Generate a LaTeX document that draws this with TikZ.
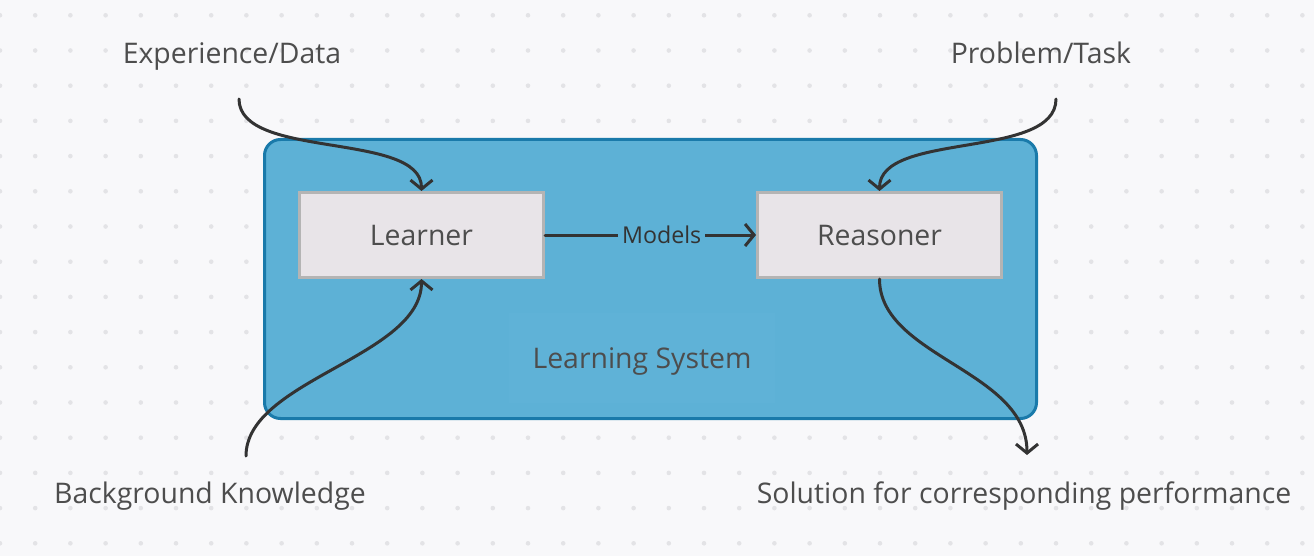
\documentclass[tikz,border=0pt]{standalone}
\usepackage{fontspec}
\setmainfont{Open Sans}
\usetikzlibrary{arrows.meta,positioning,calc}

\definecolor{paper}{HTML}{F8F8FA}
\definecolor{griddot}{HTML}{E3E3E6}
\definecolor{sysfill}{HTML}{5DB1D6}
\definecolor{sysline}{HTML}{1A7AAA}
\definecolor{labfill}{HTML}{5FB2D7}
\definecolor{boxfill}{HTML}{E8E4E8}
\definecolor{boxline}{HTML}{B4B4B4}
\definecolor{ink}{HTML}{4D4D4D}
\definecolor{wire}{HTML}{333333}

\tikzset{
  unit/.style={draw=boxline, fill=boxfill, line width=3pt, minimum width=244pt,
    minimum height=85pt, font=\fontsize{28.4}{32}\selectfont, text=ink,
    text height=20.3pt, text depth=0pt},
  flow/.style={draw=wire, line width=3pt, line cap=round,
    -{Straight Barb[length=9pt,width=22pt]}},
  caption/.style={font=\fontsize{28.4}{32}\selectfont, text=ink, anchor=base}
}

\begin{document}
\begin{tikzpicture}[x=1pt,y=-1pt]
\useasboundingbox[fill=paper] (0,0) rectangle (1314,556);
% dotted grid
\foreach \i in {0,...,37}
  \foreach \j in {0,...,15}
    \fill[griddot] (\i*35.2,15.3+\j*35.2) circle (2.3);

\node[draw=sysline, fill=sysfill, line width=3pt, rounded corners=16pt,
  minimum width=772pt, minimum height=279pt] (System) at (650.5,279) {};
\node[fill=labfill, minimum width=266pt, minimum height=90pt, text=ink,
  font=\fontsize{28.4}{32}\selectfont, text height=20.3pt, text depth=0pt]
  (SysLabel) at (642,358) {Learning System};

\node[unit] (Learner) at (421.5,235) {Learner};
\node[unit] (Reasoner) at (879.5,235) {Reasoner};

\node[caption] (Experience) at (232,63.3) {Experience/Data};
\node[caption] (Problem) at (1041,63.3) {Problem/Task};
\node[caption] (Background) at (210,503.3) {Background Knowledge};
\node[caption] (Solution) at (1024,503.3) {Solution for corresponding performance};

\coordinate (exp-start) at (239,99);
\coordinate (prob-start) at (1056,99);
\coordinate (bg-start) at (246,456);
\coordinate (sol-end) at (1027,455);

\draw[flow] (exp-start) .. controls +(0,61) and +(0,-60) .. (Learner.north);
\draw[flow] (prob-start) .. controls +(0,61) and +(0,-60) .. (Reasoner.north);
\draw[flow] (bg-start) .. controls +(0,-76) and +(0,78) .. (Learner.south);
\draw[flow] (Reasoner.south) .. controls +(0,78) and +(0,-85) .. (sol-end);
\draw[flow] (Learner.east) -- node[pos=0.553, fill=sysfill, inner sep=4pt, text=wire,
  font=\fontsize{23.2}{26}\selectfont] (Models) {Models} (Reasoner.west);
\end{tikzpicture}
\end{document}
